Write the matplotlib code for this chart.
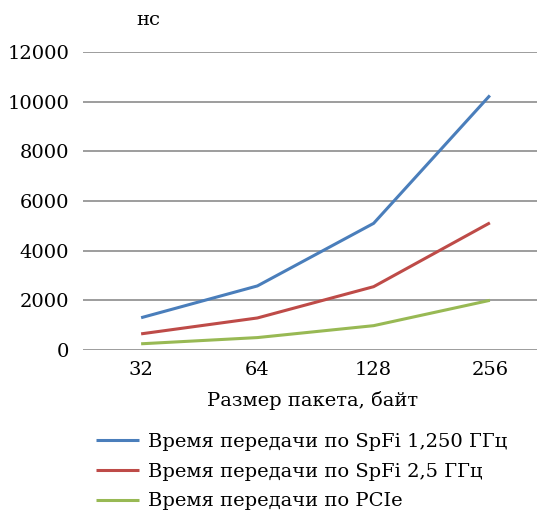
import matplotlib.pyplot as plt

# Время передачи пакета в зависимости от его размера
sizes = ["32", "64", "128", "256"]
spfi_1250 = [1300, 2580, 5100, 10250]
spfi_25 = [650, 1290, 2550, 5120]
pcie = [250, 500, 980, 2000]

labels = ["Время передачи по SpFi 1,250 ГГц",
          "Время передачи по SpFi 2,5 ГГц",
          "Время передачи по PCIe"]
colors = ["#4A7EBB", "#BE4B48", "#98B954"]

plt.rcParams['font.family'] = ['DejaVu Serif']
fs = 14

W, H = 537, 515
fig = plt.figure(figsize=(W / 100, H / 100), dpi=100)
ax = fig.add_axes([83 / W, (H - 350) / H, 465 / W, 298 / H])

x = range(len(sizes))
for y, c, lab in zip([spfi_1250, spfi_25, pcie], colors, labels):
    ax.plot(x, y, color=c, lw=2.2, label=lab, solid_capstyle='butt')

ax.set_xlim(-0.5, 3.5)
ax.set_ylim(0, 12000)
ax.set_yticks(range(0, 12001, 2000))
ax.set_xticks(list(x))
ax.set_xticklabels(sizes)
ax.grid(axis='y', color='#8c8c8c', lw=1.2)
ax.set_axisbelow(True)
for s in ax.spines.values():
    s.set_visible(False)
ax.tick_params(length=0, labelsize=fs, pad=10)
ax.tick_params(axis='x', pad=8)
ax.set_xlabel("Размер пакета, байт", fontsize=fs)
ax.xaxis.set_label_coords((313 - 83) / 465, -(391 - 350) / 298)
fig.text(148 / W, 1 - 20 / H, "нс", fontsize=fs, ha='center', va='center')

fig.legend(loc='upper left', bbox_to_anchor=(96 / W, 1 - 433 / H),
           frameon=False, fontsize=fs, handlelength=2.2, handletextpad=0.45,
           labelspacing=0.6, borderaxespad=0, borderpad=0)

fig.savefig("out.png", dpi=100)
